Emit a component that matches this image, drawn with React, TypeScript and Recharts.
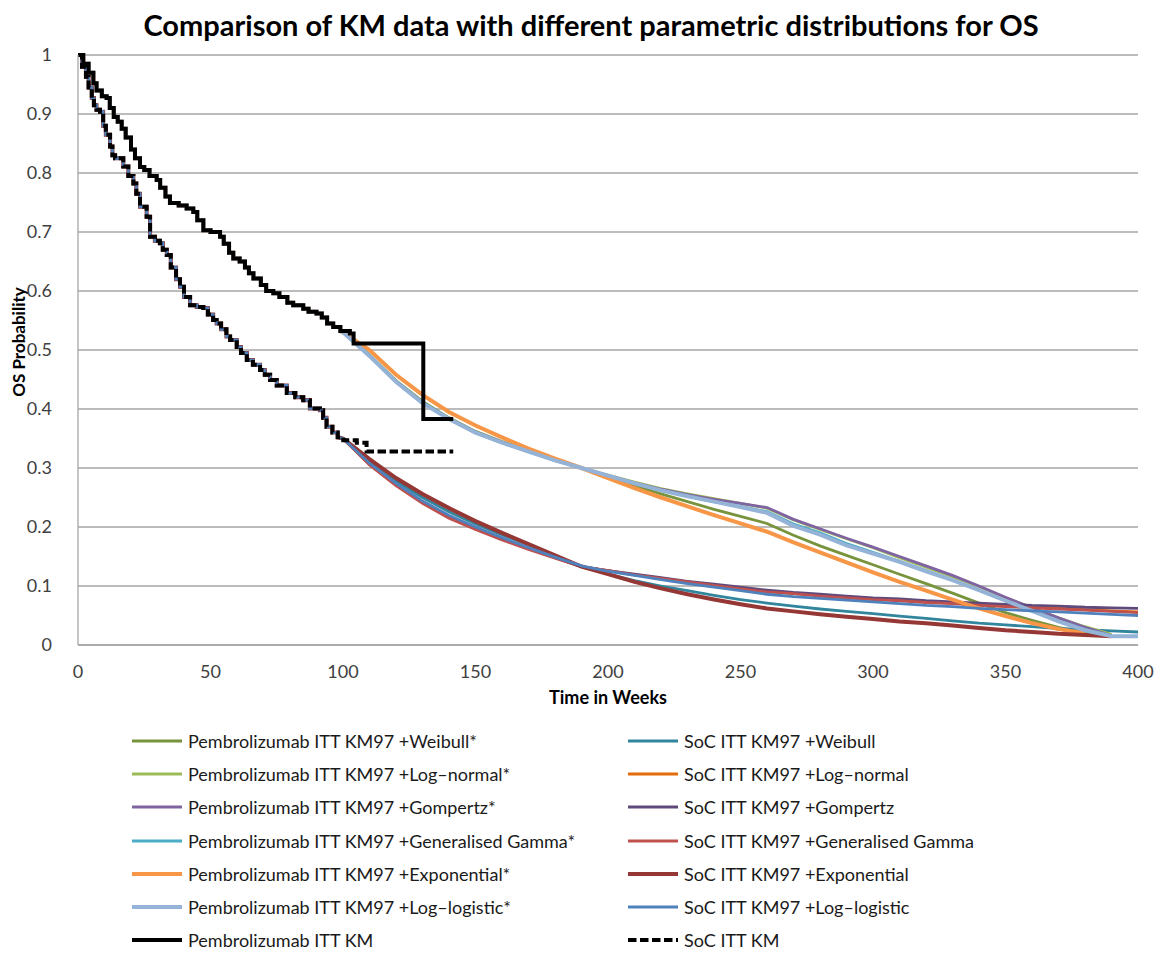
import React from 'react';
import { LineChart, Line, XAxis, YAxis, CartesianGrid } from 'recharts';

const xTicks = [0, 50, 100, 150, 200, 250, 300, 350, 400];
const yTicks = [0, 0.1, 0.2, 0.3, 0.4, 0.5, 0.6, 0.7, 0.8, 0.9, 1];

// Kaplan-Meier steps (week, survival after the step)
const pembroKmWeeks = [0, 2, 4, 5.8, 7, 9, 10.8, 12, 13.5, 15, 16.5, 18, 20, 21.5, 23.4, 25, 27, 29.7, 31, 33, 34.7, 38, 41, 43.5, 45, 47.3, 50, 53.6, 55, 57, 58.6, 61, 63, 64.5, 66.2, 69, 71, 73.7, 76, 79, 81.2, 85, 87, 90, 92, 94, 96.3, 99, 102.6, 104, 130.3, 141.6];
const pembroKmSurv = [1, 0.985, 0.97, 0.952, 0.94, 0.93, 0.927, 0.91, 0.895, 0.887, 0.875, 0.86, 0.84, 0.825, 0.81, 0.805, 0.795, 0.788, 0.775, 0.76, 0.749, 0.745, 0.74, 0.734, 0.72, 0.703, 0.7, 0.692, 0.68, 0.665, 0.655, 0.65, 0.64, 0.63, 0.621, 0.61, 0.6, 0.596, 0.59, 0.58, 0.576, 0.57, 0.565, 0.562, 0.555, 0.545, 0.539, 0.532, 0.528, 0.511, 0.383, 0.383];

const socKmWeeks = [0, 1.5, 3, 4, 5.2, 6, 7, 8.3, 9.5, 10.5, 12.1, 13, 14, 17.1, 19, 20.9, 22, 23.4, 25.9, 27.2, 29, 30.9, 32, 33.5, 35, 37, 38.5, 40, 42.3, 44.8, 47.3, 49, 51, 52.3, 54, 56, 57.4, 59.9, 61.5, 63.7, 66, 68.7, 70.5, 72.5, 75, 78.8, 82, 85, 87.5, 91.3, 92.5, 93.8, 96, 98, 100.1, 105.2, 108.9, 141.6];
const socKmSurv = [1, 0.98, 0.963, 0.945, 0.927, 0.915, 0.907, 0.904, 0.88, 0.865, 0.845, 0.83, 0.825, 0.811, 0.795, 0.782, 0.765, 0.743, 0.726, 0.692, 0.685, 0.681, 0.67, 0.661, 0.64, 0.62, 0.607, 0.59, 0.576, 0.573, 0.571, 0.56, 0.551, 0.545, 0.535, 0.523, 0.517, 0.505, 0.495, 0.483, 0.475, 0.466, 0.458, 0.449, 0.44, 0.427, 0.42, 0.415, 0.401, 0.398, 0.385, 0.37, 0.36, 0.352, 0.347, 0.343, 0.328, 0.328];

// Parametric extrapolations after the KM97 cut
const fitWeeks = [100, 110, 120, 130, 140, 150, 160, 170, 180, 190, 200, 210, 220, 230, 240, 250, 260, 270, 280, 290, 300, 310, 320, 330, 340, 350, 360, 370, 380, 390, 400];

const pembroWeibull = [0.53, 0.492, 0.448, 0.413, 0.385, 0.362, 0.345, 0.329, 0.314, 0.3, 0.285, 0.27, 0.256, 0.243, 0.23, 0.218, 0.206, 0.186, 0.168, 0.152, 0.136, 0.12, 0.104, 0.088, 0.071, 0.055, 0.042, 0.03, 0.02, 0.015, null];
const pembroLogNormal = [0.53, 0.49, 0.446, 0.41, 0.383, 0.36, 0.343, 0.328, 0.313, 0.3, 0.288, 0.276, 0.265, 0.256, 0.248, 0.24, 0.232, 0.212, 0.196, 0.18, 0.165, 0.148, 0.132, 0.116, 0.099, 0.08, 0.063, 0.046, 0.031, 0.018, null];
const pembroGompertz = [0.53, 0.49, 0.447, 0.411, 0.384, 0.361, 0.344, 0.329, 0.314, 0.3, 0.287, 0.275, 0.264, 0.255, 0.247, 0.24, 0.233, 0.213, 0.197, 0.181, 0.166, 0.15, 0.134, 0.118, 0.1, 0.081, 0.063, 0.046, 0.03, 0.016, null];
const pembroGenGamma = [0.53, 0.491, 0.447, 0.411, 0.384, 0.36, 0.343, 0.328, 0.313, 0.3, 0.287, 0.274, 0.262, 0.252, 0.243, 0.235, 0.226, 0.205, 0.19, 0.172, 0.157, 0.142, 0.126, 0.11, 0.093, 0.075, 0.058, 0.041, 0.026, 0.016, null];
const pembroExponential = [0.53, 0.5, 0.458, 0.424, 0.395, 0.372, 0.352, 0.333, 0.316, 0.3, 0.283, 0.266, 0.25, 0.235, 0.22, 0.206, 0.192, 0.174, 0.157, 0.14, 0.123, 0.107, 0.092, 0.077, 0.062, 0.049, 0.037, 0.027, 0.02, null, null];
const pembroLogLogistic = [0.53, 0.49, 0.446, 0.41, 0.383, 0.36, 0.343, 0.328, 0.313, 0.3, 0.287, 0.274, 0.262, 0.252, 0.243, 0.234, 0.224, 0.202, 0.187, 0.169, 0.155, 0.141, 0.125, 0.11, 0.093, 0.075, 0.058, 0.04, 0.025, 0.015, 0.015];

const socWeibull = [0.35, 0.31, 0.278, 0.25, 0.226, 0.205, 0.187, 0.17, 0.151, 0.133, 0.12, 0.109, 0.1, 0.092, 0.084, 0.077, 0.071, 0.066, 0.061, 0.057, 0.053, 0.049, 0.045, 0.041, 0.037, 0.034, 0.031, 0.028, 0.026, 0.024, 0.022];
const socLogNormal = [0.35, 0.306, 0.271, 0.242, 0.217, 0.198, 0.18, 0.164, 0.148, 0.133, 0.126, 0.119, 0.113, 0.107, 0.101, 0.096, 0.091, 0.087, 0.084, 0.081, 0.078, 0.076, 0.073, 0.071, 0.068, 0.066, 0.064, 0.062, 0.06, 0.058, 0.056];
const socGompertz = [0.35, 0.307, 0.272, 0.243, 0.218, 0.198, 0.18, 0.164, 0.148, 0.133, 0.126, 0.12, 0.114, 0.108, 0.103, 0.098, 0.093, 0.089, 0.086, 0.083, 0.08, 0.078, 0.075, 0.073, 0.071, 0.069, 0.067, 0.066, 0.064, 0.063, 0.062];
const socGenGamma = [0.35, 0.305, 0.27, 0.24, 0.215, 0.196, 0.178, 0.162, 0.147, 0.133, 0.126, 0.119, 0.113, 0.107, 0.101, 0.095, 0.09, 0.087, 0.083, 0.08, 0.077, 0.075, 0.072, 0.07, 0.067, 0.065, 0.063, 0.061, 0.059, 0.057, 0.055];
const socExponential = [0.35, 0.315, 0.283, 0.256, 0.232, 0.21, 0.19, 0.171, 0.152, 0.133, 0.12, 0.107, 0.096, 0.086, 0.077, 0.069, 0.062, 0.057, 0.052, 0.048, 0.044, 0.04, 0.037, 0.033, 0.029, 0.025, 0.022, 0.019, 0.017, 0.015, null];
const socLogLogistic = [0.35, 0.308, 0.274, 0.244, 0.22, 0.2, 0.182, 0.165, 0.149, 0.134, 0.125, 0.118, 0.111, 0.104, 0.098, 0.092, 0.086, 0.082, 0.079, 0.076, 0.073, 0.07, 0.067, 0.065, 0.062, 0.06, 0.058, 0.056, 0.054, 0.052, 0.05];

type Pt = { t: number; v: number };

// KM part drawn as explicit steps, so fits can share it before the cut
function kmSteps(weeks: number[], surv: number[], upTo: number): Pt[] {
  const pts: Pt[] = [];
  weeks.forEach((t, i) => {
    if (t >= upTo) return;
    if (i > 0) pts.push({ t, v: surv[i - 1] });
    pts.push({ t, v: surv[i] });
  });
  return pts;
}

function fitData(weeks: number[], surv: number[], values: (number | null)[]): Pt[] {
  const tail: Pt[] = [];
  fitWeeks.forEach((t, i) => {
    const v = values[i];
    if (v != null) tail.push({ t, v });
  });
  return [...kmSteps(weeks, surv, fitWeeks[0]), ...tail];
}

type Series = { name: string; data: Pt[]; color: string; width: number; dash?: string; step?: boolean };

const pembroSeries: Series[] = [
  { name: 'Pembrolizumab ITT KM97 +Weibull*', data: fitData(pembroKmWeeks, pembroKmSurv, pembroWeibull), color: '#77933C', width: 2.8 },
  { name: 'Pembrolizumab ITT KM97 +Log\u2013normal*', data: fitData(pembroKmWeeks, pembroKmSurv, pembroLogNormal), color: '#9BBB59', width: 2.8 },
  { name: 'Pembrolizumab ITT KM97 +Gompertz*', data: fitData(pembroKmWeeks, pembroKmSurv, pembroGompertz), color: '#8064A2', width: 2.8 },
  { name: 'Pembrolizumab ITT KM97 +Generalised Gamma*', data: fitData(pembroKmWeeks, pembroKmSurv, pembroGenGamma), color: '#4BACC6', width: 2.8 },
  { name: 'Pembrolizumab ITT KM97 +Exponential*', data: fitData(pembroKmWeeks, pembroKmSurv, pembroExponential), color: '#F79646', width: 4 },
  { name: 'Pembrolizumab ITT KM97 +Log\u2013logistic*', data: fitData(pembroKmWeeks, pembroKmSurv, pembroLogLogistic), color: '#95B3D7', width: 4 },
  { name: 'Pembrolizumab ITT KM', data: pembroKmWeeks.map((t, i) => ({ t, v: pembroKmSurv[i] })), color: '#000000', width: 4, step: true },
];

const socSeries: Series[] = [
  { name: 'SoC ITT KM97 +Weibull', data: fitData(socKmWeeks, socKmSurv, socWeibull), color: '#31859C', width: 2.8 },
  { name: 'SoC ITT KM97 +Log\u2013normal', data: fitData(socKmWeeks, socKmSurv, socLogNormal), color: '#E46C0A', width: 2.8 },
  { name: 'SoC ITT KM97 +Gompertz', data: fitData(socKmWeeks, socKmSurv, socGompertz), color: '#604A7B', width: 2.8 },
  { name: 'SoC ITT KM97 +Generalised Gamma', data: fitData(socKmWeeks, socKmSurv, socGenGamma), color: '#C0504D', width: 2.8 },
  { name: 'SoC ITT KM97 +Exponential', data: fitData(socKmWeeks, socKmSurv, socExponential), color: '#953735', width: 4 },
  { name: 'SoC ITT KM97 +Log\u2013logistic', data: fitData(socKmWeeks, socKmSurv, socLogLogistic), color: '#4F81BD', width: 2.8 },
  { name: 'SoC ITT KM', data: socKmWeeks.map((t, i) => ({ t, v: socKmSurv[i] })), color: '#000000', width: 4, dash: '8.5 3.5', step: true },
];

// Excel-style order: pembro / soc interleaved
const drawOrder: Series[] = pembroSeries.flatMap((s, i) => [s, socSeries[i]]);

const FONT = 'Lato, "Open Sans", sans-serif';

function LegendColumn({ items, left }: { items: Series[]; left: number }) {
  return (
    <>
      {items.map((s, i) => (
        <div
          key={s.name}
          style={{ position: 'absolute', left, top: 741 - 9 + i * 33.2, height: 18, display: 'flex', alignItems: 'center' }}
        >
          <svg width={52} height={18} style={{ display: 'block' }}>
            <line x1={1} x2={51} y1={9} y2={9} stroke={s.color} strokeWidth={s.width} strokeDasharray={s.dash} />
          </svg>
          <span style={{ marginLeft: 5, fontSize: 18, lineHeight: '18px', color: '#1a1a1a', whiteSpace: 'nowrap' }}>{s.name}</span>
        </div>
      ))}
    </>
  );
}

export default function App() {
  return (
    <div style={{ position: 'absolute', left: 0, top: 0, width: 1154, height: 953, background: '#fff', fontFamily: FONT }}>
      <div
        style={{ position: 'absolute', left: 0, width: 1182, top: 6, textAlign: 'center', fontSize: 29, lineHeight: '38px', fontWeight: 700, color: '#000' }}
      >
        Comparison of KM data with different parametric distributions for OS
      </div>
      <div style={{ position: 'absolute', left: 0, top: 0 }}>
        <LineChart width={1154} height={735} margin={{ top: 55, right: 16, bottom: 0, left: 0 }}>
          <CartesianGrid vertical={false} stroke="#a6a6a6" strokeWidth={1.3} />
          <XAxis
            dataKey="t"
            type="number"
            domain={[0, 400]}
            ticks={xTicks}
            height={90}
            tickLine={false}
            tickSize={0}
            tickMargin={20}
            stroke="#a6a6a6"
            strokeWidth={1.3}
            tick={{ fill: '#404040', fontSize: 18, fontFamily: FONT }}
            label={{
              content: (p: any) => (
                <text
                  x={p.viewBox.x + p.viewBox.width / 2}
                  y={p.viewBox.y + 52}
                  textAnchor="middle"
                  dominantBaseline="central"
                  fontFamily={FONT}
                  fontSize={18}
                  fontWeight={700}
                  fill="#000"
                >
                  Time in Weeks
                </text>
              ),
            }}
          />
          <YAxis
            type="number"
            domain={[0, 1]}
            ticks={yTicks}
            width={78}
            tickLine={false}
            tickSize={0}
            tickMargin={26}
            stroke="#a6a6a6"
            strokeWidth={1.3}
            tick={{ fill: '#404040', fontSize: 18, fontFamily: FONT }}
            label={{
              content: (p: any) => {
                const cx = p.viewBox.x + 18;
                const cy = p.viewBox.y + p.viewBox.height / 2 - 8;
                return (
                  <text
                    x={cx}
                    y={cy}
                    transform={`rotate(-90 ${cx} ${cy})`}
                    textAnchor="middle"
                    dominantBaseline="central"
                    fontFamily={FONT}
                    fontSize={17}
                    fontWeight={700}
                    fill="#000"
                  >
                    OS Probability
                  </text>
                );
              },
            }}
          />
          {drawOrder.map((s) => (
            <Line
              key={s.name}
              data={s.data}
              dataKey="v"
              name={s.name}
              type={s.step ? 'stepAfter' : 'linear'}
              stroke={s.color}
              strokeWidth={s.width}
              strokeDasharray={s.dash}
              strokeLinejoin="miter"
              dot={false}
              activeDot={false}
              isAnimationActive={false}
            />
          ))}
        </LineChart>
      </div>
      <LegendColumn items={pembroSeries} left={131} />
      <LegendColumn items={socSeries} left={627} />
    </div>
  );
}
